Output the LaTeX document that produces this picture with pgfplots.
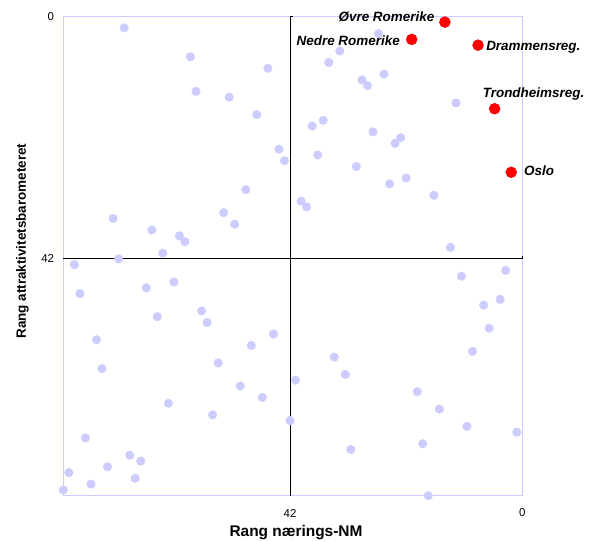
\documentclass[border=0pt]{standalone}
\usepackage{fontspec}
\setmainfont{Liberation Sans}
\usepackage{pgfplots}
\pgfplotsset{compat=1.18}
\definecolor{lav}{RGB}{204,204,255}
\definecolor{redpt}{RGB}{255,0,0}
\begin{document}
\begin{tikzpicture}
\path[use as bounding box] (-63.3bp,-45.3bp) rectangle (528.7bp,495.7bp);
\begin{axis}[
  scale only axis,
  width=459bp, height=479.4bp,
  x dir=reverse, y dir=reverse,
  xmin=0, xmax=83, ymin=0, ymax=83,
  xtick={0,42}, ytick={0,42},
  major tick length=0pt,
  axis line style={draw=lav, line width=0.8bp},
  clip=false,
  /pgf/number format/assume math mode=true,
  ticklabel style={font=\fontsize{11.5}{13}\selectfont},
  xticklabel style={anchor=center, yshift=-17.3bp},
  yticklabel style={anchor=east, inner sep=0pt, xshift=-9bp},
  xlabel={Rang nærings-NM},
  ylabel={Rang attraktivitetsbarometeret},
  xlabel style={font=\bfseries\fontsize{15.5}{18}\selectfont, at={(axis description cs:0.507,-0.0778)}, anchor=center},
  ylabel style={font=\bfseries\fontsize{13.5}{16}\selectfont, at={(axis description cs:-0.0889,0.531)}, anchor=center, rotate=0},
]
% crosshair at rank 42
\addplot[black, line width=0.8bp] coordinates {(42,0) (42,83)};
\addplot[black, line width=0.8bp] coordinates {(0,42) (83,42)};
\draw[black, line width=0.8bp] (axis cs:42,0) -- ++(3bp,0);
\draw[black, line width=0.8bp] (axis cs:42,42) -- ++(3bp,0);
\draw[black, line width=0.8bp] (axis cs:0,42) -- ++(0,3bp);
\draw[black, line width=0.8bp] (axis cs:42,42) -- ++(0,-3bp);
% other regions
\addplot[only marks, mark=*, mark size=4.3bp, mark options={fill=lav, draw=lav}] coordinates {
(72,2) (60,7) (46,9) (59,13) (53,14) (48,17) (44,23) (43,25) (50,30) (74,35)
(54,34) (52,36) (67,37) (62,38) (61,39) (65,41) (73,42) (81,43)
(26,3) (33,6) (35,8) (25,10) (29,11) (28,12) (12,15) (38,19) (36,18) (27,20)
(22,21) (23,22) (37,24) (30,26) (21,28) (24,29) (16,31) (40,32) (39,33) (13,40)
(80,48) (68,47) (63,46) (66,52) (58,51) (57,53) (45,55) (49,57) (77,56) (76,61)
(55,60) (41,63) (51,64) (47,66) (64,67) (56,69) (42,70) (79,73) (71,76) (69,77)
(75,78) (82,79) (70,80) (78,81) (83,82)
(3,44) (11,45) (4,49) (7,50) (6,54) (9,58) (34,59) (32,62) (19,65) (15,68)
(10,71) (1,72) (18,74) (31,75) (17,83)
};
% highlighted regions
\pgfplotsset{every red/.style={only marks, mark=*, mark size=5.5bp, mark options={fill=redpt, draw=redpt}}}
\tikzset{lbl/.style={inner sep=0pt, font=\bfseries\itshape\fontsize{13.5}{16}\selectfont}}
\addplot[every red] coordinates {(14,1)} node[lbl, anchor=base east, xshift=-10.4bp, yshift=0.7bp] {Øvre Romerike};
\addplot[every red] coordinates {(20,4)} node[lbl, anchor=base east, xshift=-11.7bp, yshift=-5.7bp] {Nedre Romerike};
\addplot[every red] coordinates {(8,5)} node[lbl, anchor=base west, xshift=8bp, yshift=-5.7bp] {Drammensreg.};
\addplot[every red] coordinates {(5,16)} node[lbl, anchor=base west, xshift=-12bp, yshift=11.7bp] {Trondheimsreg.};
\addplot[every red] coordinates {(2,27)} node[lbl, anchor=base west, xshift=12.7bp, yshift=-3.7bp] {Oslo};
\end{axis}
\end{tikzpicture}
\end{document}
